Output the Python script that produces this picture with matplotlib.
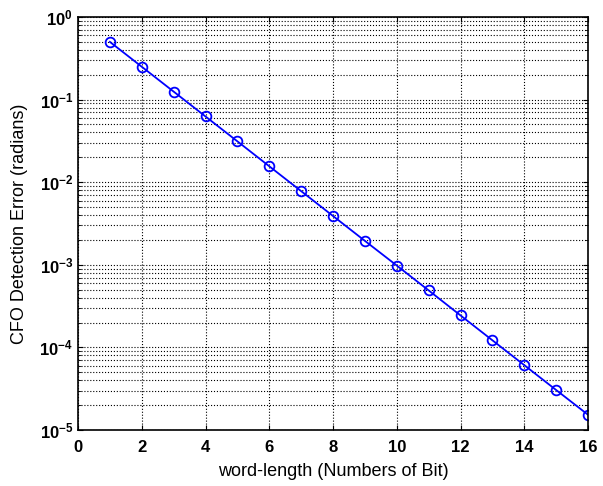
import numpy as np
import matplotlib.pyplot as plt
from matplotlib.ticker import LogLocator, NullFormatter

bits = [1, 2, 3, 4, 5, 6, 7, 8, 9, 10, 11, 12, 13, 14, 15, 16]
err = [0.5, 0.25, 0.125, 0.0625, 0.03125, 0.0156, 0.0078, 0.0039,
       0.00195, 0.00098, 0.00049, 0.000244, 0.000122, 6.1e-5, 3.05e-5, 1.53e-5]

plt.rcParams['font.family'] = ['Liberation Sans', 'DejaVu Sans']
fig = plt.figure(figsize=(6.03, 4.86), dpi=100)
ax = fig.add_axes([78/603, 1-430/486, (588-78)/603, (430-17)/486])

ax.semilogy(bits, err, 'o-', color='blue', mfc='none', ms=7, mew=1.3, lw=1.3)
ax.set_xlim(0, 16)
ax.set_ylim(1e-5, 1)
ax.set_xticks(range(0, 17, 2))
ax.yaxis.set_major_locator(LogLocator(base=10, numticks=10))
ax.yaxis.set_minor_locator(LogLocator(base=10, subs=np.arange(2, 10), numticks=10))
ax.yaxis.set_minor_formatter(NullFormatter())
ax.grid(True, which='major', color='black', ls=':', lw=0.8)
ax.grid(True, which='minor', axis='y', color='black', ls=':', lw=0.8)
ax.tick_params(which='both', direction='in', top=True, right=True)
ax.tick_params(labelsize=12)
ax.tick_params(axis='x', pad=7)
for lab in ax.get_xticklabels() + ax.get_yticklabels():
    lab.set_fontweight('bold')
for s in ax.spines.values():
    s.set_linewidth(1.2)
ax.set_xlabel('word-length (Numbers of Bit)', fontsize=13, labelpad=6)
ax.set_ylabel('CFO Detection Error (radians)', fontsize=13, labelpad=8)

fig.savefig('out.png', dpi=100)
